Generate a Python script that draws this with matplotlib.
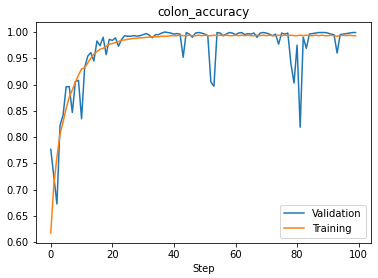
import matplotlib
matplotlib.use("Agg")
import matplotlib.pyplot as plt

steps = list(range(100))

validation = [
    0.777, 0.725, 0.673, 0.822, 0.842, 0.896, 0.896, 0.847, 0.906, 0.908,
    0.835, 0.932, 0.954, 0.961, 0.945, 0.983, 0.974, 0.990, 0.957, 0.986,
    0.984, 0.989, 0.973, 0.986, 0.993, 0.992, 0.992, 0.993, 0.992, 0.993,
    0.995, 0.997, 0.994, 0.989, 0.995, 0.995, 0.998, 1.000, 0.999, 0.998,
    0.996, 0.997, 0.996, 0.952, 0.999, 0.996, 0.990, 0.998, 0.999, 0.998,
    0.996, 0.993, 0.905, 0.897, 0.999, 0.998, 0.993, 0.996, 0.999, 0.998,
    0.995, 0.998, 0.999, 0.995, 0.997, 0.996, 0.998, 0.990, 0.998, 0.999,
    0.998, 0.996, 0.993, 0.996, 0.977, 0.998, 0.996, 0.998, 0.940, 0.903,
    0.975, 0.819, 0.990, 0.969, 0.996, 0.997, 0.998, 0.999, 0.999, 0.999,
    0.998, 0.996, 0.995, 0.960, 0.995, 0.996, 0.997, 0.998, 0.999, 0.999,
]

training = [
    0.618, 0.710, 0.762, 0.806, 0.829, 0.855, 0.876, 0.890, 0.905, 0.918,
    0.930, 0.932, 0.941, 0.950, 0.958, 0.963, 0.967, 0.969, 0.973, 0.977,
    0.978, 0.980, 0.982, 0.984, 0.985, 0.986, 0.987, 0.988, 0.988, 0.989,
    0.989, 0.990, 0.990, 0.991, 0.991, 0.991, 0.992, 0.992, 0.992, 0.993,
    0.993, 0.993, 0.994, 0.993, 0.993, 0.994, 0.993, 0.993, 0.994, 0.993,
    0.994, 0.993, 0.993, 0.994, 0.993, 0.994, 0.993, 0.994, 0.993, 0.993,
    0.994, 0.993, 0.994, 0.993, 0.994, 0.993, 0.993, 0.994, 0.993, 0.994,
    0.993, 0.994, 0.993, 0.993, 0.994, 0.993, 0.994, 0.993, 0.994, 0.993,
    0.993, 0.994, 0.993, 0.994, 0.993, 0.993, 0.994, 0.993, 0.994, 0.993,
    0.993, 0.994, 0.993, 0.992, 0.993, 0.994, 0.993, 0.994, 0.993, 0.993,
]

fig = plt.figure(figsize=(378 / 72, 278 / 72), dpi=72)
ax = fig.add_axes([0.094, 0.126, 0.887, 0.795])

ax.plot(steps, validation, label="Validation")
ax.plot(steps, training, label="Training")

ax.set_title("colon_accuracy")
ax.set_xlabel("Step")
ax.set_xticks([0, 20, 40, 60, 80, 100])
ax.legend(loc="lower right")

fig.savefig("out.png", dpi=72)
